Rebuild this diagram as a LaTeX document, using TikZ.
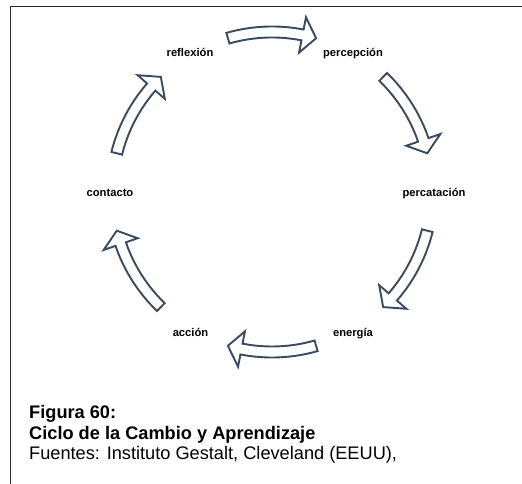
\documentclass[tikz,border=0pt]{standalone}
\usepackage{fontspec}
\setmainfont{Liberation Sans}
\definecolor{arrowc}{HTML}{3B4A5E}
\definecolor{framec}{HTML}{2B2B2B}
\begin{document}
\begin{tikzpicture}[x=1pt,y=1pt,
  lbl/.style={font=\fontsize{11.2}{13}\selectfont\bfseries, text=black, inner sep=0pt, anchor=base},
  cyc/.style={draw=arrowc, line width=1.9pt, fill=white, line join=miter},
  captxt/.style={font=\fontsize{18.2}{20.7}\selectfont, text=black, inner sep=0pt, anchor=north west, align=left}]
\useasboundingbox (0,0) rectangle (522,484);
\fill[white] (0,0) rectangle (522,484);
\draw[line width=1.8pt, draw=framec] (522,477.5) -- (10.5,477.5) -- (10.5,0);
% cycle arrows
\begin{scope}[shift={(272,292)}]
\foreach \m in {90,30,-30,-90,-150,150} {
  \pgfmathsetmacro\ta{\m+16}
  \pgfmathsetmacro\hb{\m-11}
  \pgfmathsetmacro\te{\m-16}
  \draw[cyc] (\ta:165.5) arc[start angle=\ta, end angle=\hb, radius=165.5]
    -- (\hb:178) -- (\te:160) -- (\hb:142) -- (\hb:154.5)
    arc[start angle=\hb, end angle=\ta, radius=154.5] -- cycle;
}
\end{scope}
% labels
\node[lbl] (refl) at (190,427) {reflexión};
\node[lbl] (perc) at (353,427) {percepción};
\node[lbl] (pcat) at (434,287.5) {percatación};
\node[lbl] (ener) at (353,147.5) {energía};
\node[lbl] (acci) at (190.5,147.5) {acción};
\node[lbl] (cont) at (110,287.5) {contacto};
% caption
\node[captxt] (cap) at (29,79) {\textbf{Figura 60:}\\\textbf{Ciclo de la Cambio y Aprendizaje}\\Fuentes: Instituto Gestalt, Cleveland (EEUU),};
\end{tikzpicture}
\end{document}
